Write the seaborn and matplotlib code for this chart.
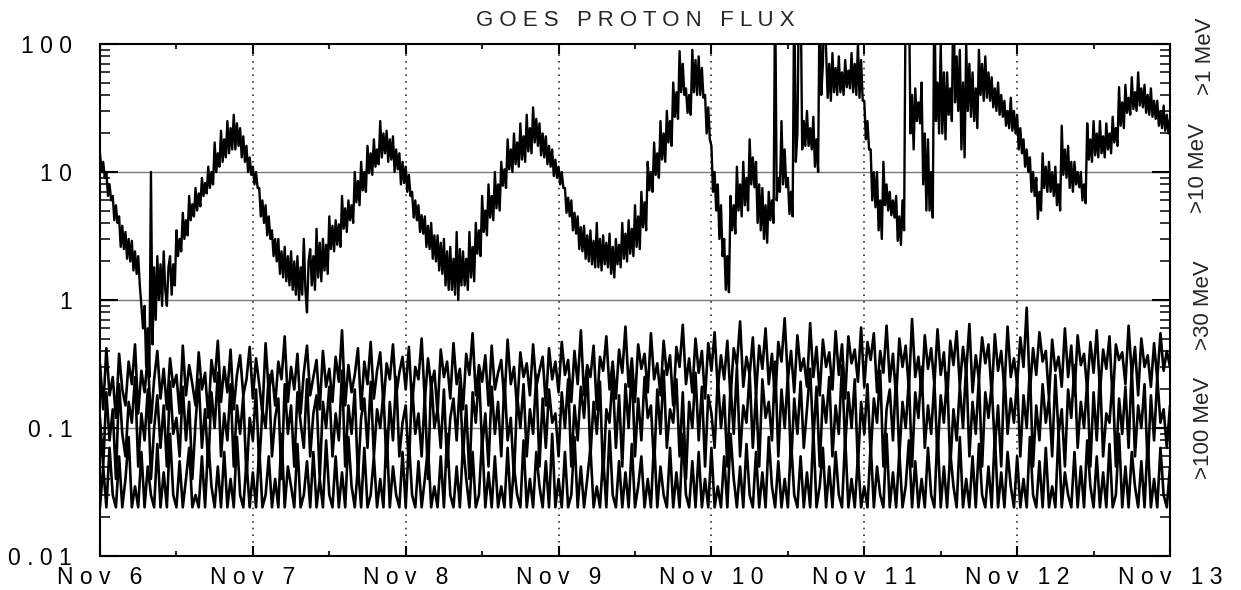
import numpy as np
import pandas as pd
import matplotlib
matplotlib.use('Agg')
import matplotlib.pyplot as plt
import matplotlib.ticker as mticker
import matplotlib.transforms as mtrans
import seaborn as sns

# >1 MeV channel, four readings per hour, one list per day (Nov 6 .. Nov 12)
p1_day0 = [14, 10, 12, 9, 10, 6.5, 8, 6, 6.5, 4.2, 5.5, 4, 4.5, 2.6, 3.8, 2.5, 3.4, 2.1, 3.0, 2.0, 2.9, 1.7, 2.4, 1.6,
           2.2, 1.3, 0.9, 0.6, 0.9, 0.3, 0.6, 0.25, 10, 0.45, 1.8, 0.7, 2.2, 1.0, 1.9, 0.9, 2.4, 1.2, 0.9, 1.8, 2.2, 1.1, 1.9, 1.3,
           3.5, 2.2, 3.0, 2.4, 4.8, 3.0, 4.2, 3.2, 6.5, 4.2, 5.6, 4.5, 7.5, 5.0, 6.8, 5.4, 9.0, 6.5, 8.2, 6.8, 11, 7.5, 10, 8,
           17, 10, 14, 11, 21, 12, 18, 13, 25, 14, 22, 15, 28, 15, 24, 16, 22, 13, 19, 12, 16, 10, 13, 9.5]
p1_day1 = [11, 8, 10, 7.5, 7.5, 4.5, 6, 4, 5.5, 3.2, 4.5, 3, 3.5, 2.2, 3.0, 2.0, 3.0, 1.6, 2.4, 1.5, 2.6, 1.4, 2.2, 1.3,
           2.4, 1.2, 2.0, 1.1, 2.2, 1.0, 1.8, 1.1, 3.0, 1.2, 0.8, 2.0, 2.5, 1.3, 2.2, 1.2, 3.6, 1.5, 2.8, 1.4, 3.0, 1.7, 2.7, 1.6,
           4.5, 2.5, 3.8, 2.4, 4.2, 2.7, 3.9, 2.6, 6.5, 3.6, 5.2, 3.4, 6.0, 4.2, 5.5, 4.0, 10, 5.8, 8.5, 5.5, 12, 7.2, 10, 7,
           16, 9.8, 14, 9.5, 18, 11, 15, 11.5, 25, 13, 20, 14, 21, 12, 18, 12.5, 19, 10, 15, 10.5, 14, 8, 12, 8.2]
p1_day2 = [11, 7, 9.5, 6.5, 7, 4.4, 6, 4.2, 5.5, 3.4, 4.6, 3.3, 4.5, 2.6, 3.8, 2.5, 4.0, 2.1, 3.2, 2.0, 3.2, 1.7, 2.8, 1.6,
           3.0, 1.3, 2.4, 1.2, 2.6, 1.2, 2.1, 1.1, 3.4, 1.0, 2.5, 1.3, 2.4, 1.3, 2.1, 1.2, 3.4, 1.5, 2.6, 1.4, 4.0, 2.3, 3.5, 2.2,
           6.5, 3.4, 5.0, 3.2, 8, 4.4, 6.5, 4.2, 10, 5.2, 8, 5, 12, 7.8, 10.5, 7.5, 18, 10.5, 15, 10, 20, 11.5, 17, 11,
           24, 12.5, 19, 12, 28, 14.5, 22, 14, 32, 17, 26, 16, 24, 13.5, 20, 13, 19, 11.5, 16, 11, 15, 9.3, 12.5, 9]
p1_day3 = [11, 8, 10, 7.5, 7.5, 4.8, 6.3, 4.5, 6, 3.5, 4.8, 3.3, 4.5, 2.5, 3.7, 2.4, 3.8, 2.1, 3.2, 2.0, 3.5, 1.9, 2.9, 1.8,
           4.0, 1.8, 3.0, 1.7, 3.2, 1.9, 2.8, 1.8, 3.3, 1.6, 2.6, 1.5, 3.0, 1.9, 2.7, 1.8, 4.0, 2.1, 3.3, 2.0, 4.2, 2.3, 3.6, 2.2,
           5.5, 2.6, 4.5, 2.5, 7, 3.7, 5.8, 3.5, 12, 7.2, 10, 7, 17, 9.5, 14, 9, 25, 12.5, 20, 12, 30, 17, 25, 16,
           50, 27, 42, 26, 88, 42, 70, 40, 45, 29, 40, 28, 90, 42, 75, 40, 80, 40, 65, 38, 40, 20, 32, 18]
p1_day4 = [16, 7, 10, 5, 8, 3, 5.5, 2.2, 3, 1.2, 2.2, 1.15, 6.5, 3.5, 5.5, 3.3, 11, 5, 8, 4.5, 12, 5.5, 9, 5,
           18, 8, 13, 7.6, 12, 4, 8, 3.5, 7.5, 3, 5.5, 2.8, 7, 4.2, 6, 4, 300, 6, 9, 7, 25, 8, 15, 7.6,
           9, 4.7, 7, 4.5, 300, 12, 20, 300, 300, 15, 25, 16, 30, 16, 22, 15, 27, 11, 18, 10, 300, 40, 70, 300,
           90, 38, 70, 36, 85, 42, 65, 40, 80, 42, 60, 40, 75, 46, 62, 45, 85, 42, 70, 40, 100, 38, 75, 36]
p1_day5 = [36, 18, 25, 15, 15, 6, 10, 5.3, 10, 3.5, 6, 3, 12, 5.5, 8, 5, 7, 4.6, 6, 4.4, 6.5, 2.9, 4.5, 2.7,
           6, 3.5, 300, 300, 300, 20, 40, 15, 45, 25, 35, 24, 50, 8, 20, 5, 18, 5, 10, 4.4, 300, 25, 50, 20,
           100, 20, 60, 18, 60, 28, 45, 25, 300, 35, 80, 30, 90, 15, 50, 13, 100, 30, 70, 27, 60, 25, 45, 22,
           90, 40, 70, 36, 80, 38, 60, 36, 55, 32, 45, 30, 50, 28, 40, 27, 36, 23, 30, 22, 38, 21, 30, 20]
p1_day6 = [28, 15, 22, 14, 18, 11, 15, 10, 13, 7, 10, 6.5, 9, 4.3, 7, 5, 14, 7.5, 11, 7, 12, 7, 10, 6.5,
           11, 5.5, 8, 5, 23, 9.5, 15, 9, 16, 7.5, 12, 7, 12, 8, 10, 7.6, 10, 6, 8, 5.7, 24, 12.5, 18, 12,
           25, 13.5, 20, 13, 25, 14, 19, 13, 24, 15, 20, 14, 27, 17, 22, 16, 46, 23, 35, 22, 48, 29, 38, 28,
           55, 31, 42, 30, 60, 33, 45, 32, 48, 29, 40, 28, 45, 27, 36, 26, 36, 23, 30, 22, 33, 21, 28, 20]
p1_end = [26]

# >10 MeV channel, two readings per hour
p10_days = [
    [0.32, 0.14, 0.42, 0.18, 0.25, 0.12, 0.38, 0.20, 0.15, 0.33, 0.22, 0.45, 0.13, 0.28, 0.19, 0.36, 0.11, 0.24, 0.40, 0.17, 0.29, 0.14, 0.35, 0.21,
     0.26, 0.13, 0.44, 0.18, 0.31, 0.22, 0.15, 0.39, 0.20, 0.27, 0.12, 0.34, 0.23, 0.48, 0.16, 0.30, 0.19, 0.41, 0.14, 0.26, 0.37, 0.18, 0.24, 0.43],
    [0.17, 0.35, 0.22, 0.13, 0.46, 0.19, 0.28, 0.15, 0.33, 0.24, 0.52, 0.16, 0.30, 0.20, 0.38, 0.13, 0.27, 0.44, 0.18, 0.25, 0.34, 0.14, 0.40, 0.21,
     0.29, 0.16, 0.36, 0.23, 0.58, 0.15, 0.31, 0.19, 0.26, 0.42, 0.14, 0.33, 0.22, 0.47, 0.17, 0.28, 0.39, 0.15, 0.32, 0.24, 0.45, 0.18, 0.27, 0.36],
    [0.20, 0.43, 0.15, 0.30, 0.24, 0.50, 0.16, 0.35, 0.21, 0.28, 0.13, 0.41, 0.25, 0.33, 0.17, 0.46, 0.22, 0.29, 0.14, 0.38, 0.26, 0.55, 0.18, 0.31,
     0.23, 0.37, 0.15, 0.44, 0.20, 0.27, 0.34, 0.16, 0.49, 0.22, 0.30, 0.14, 0.39, 0.25, 0.32, 0.18, 0.45, 0.21, 0.28, 0.36, 0.15, 0.42, 0.24, 0.33],
    [0.19, 0.47, 0.26, 0.34, 0.16, 0.40, 0.22, 0.58, 0.18, 0.31, 0.25, 0.44, 0.14, 0.36, 0.28, 0.52, 0.20, 0.33, 0.17, 0.41, 0.27, 0.62, 0.21, 0.35,
     0.16, 0.45, 0.29, 0.38, 0.19, 0.55, 0.24, 0.32, 0.18, 0.48, 0.26, 0.37, 0.15, 0.43, 0.30, 0.64, 0.22, 0.35, 0.19, 0.50, 0.27, 0.40, 0.17, 0.46],
    [0.28, 0.56, 0.20, 0.37, 0.24, 0.48, 0.17, 0.42, 0.31, 0.68, 0.21, 0.36, 0.26, 0.51, 0.18, 0.44, 0.29, 0.60, 0.22, 0.38, 0.16, 0.47, 0.33, 0.72,
     0.24, 0.40, 0.19, 0.53, 0.28, 0.35, 0.21, 0.66, 0.25, 0.43, 0.18, 0.49, 0.30, 0.39, 0.20, 0.57, 0.26, 0.45, 0.17, 0.52, 0.32, 0.41, 0.23, 0.61],
    [0.21, 0.47, 0.34, 0.55, 0.19, 0.40, 0.27, 0.63, 0.23, 0.38, 0.17, 0.50, 0.30, 0.44, 0.20, 0.71, 0.25, 0.36, 0.18, 0.53, 0.29, 0.42, 0.22, 0.59,
     0.26, 0.39, 0.16, 0.48, 0.31, 0.57, 0.21, 0.43, 0.27, 0.65, 0.19, 0.37, 0.24, 0.51, 0.32, 0.45, 0.18, 0.54, 0.28, 0.40, 0.20, 0.62, 0.25, 0.35],
    [0.22, 0.51, 0.30, 0.87, 0.19, 0.42, 0.26, 0.56, 0.33, 0.40, 0.17, 0.49, 0.28, 0.36, 0.21, 0.60, 0.25, 0.44, 0.18, 0.53, 0.31, 0.38, 0.20, 0.47,
     0.27, 0.58, 0.19, 0.41, 0.29, 0.52, 0.16, 0.45, 0.34, 0.39, 0.22, 0.63, 0.26, 0.43, 0.18, 0.50, 0.30, 0.37, 0.21, 0.46, 0.24, 0.55, 0.28, 0.40],
    [0.30],
]

# >30 MeV channel, two readings per hour
p30_days = [
    [0.12, 0.05, 0.19, 0.08, 0.14, 0.04, 0.22, 0.09, 0.06, 0.16, 0.11, 0.25, 0.05, 0.13, 0.08, 0.20, 0.04, 0.10, 0.18, 0.07, 0.15, 0.05, 0.23, 0.09,
     0.12, 0.06, 0.21, 0.08, 0.16, 0.04, 0.11, 0.24, 0.07, 0.14, 0.05, 0.19, 0.10, 0.27, 0.06, 0.13, 0.08, 0.22, 0.05, 0.15, 0.09, 0.18, 0.04, 0.12],
    [0.08, 0.20, 0.05, 0.14, 0.10, 0.26, 0.06, 0.12, 0.17, 0.04, 0.22, 0.09, 0.15, 0.05, 0.19, 0.11, 0.07, 0.24, 0.06, 0.13, 0.18, 0.04, 0.16, 0.10,
     0.21, 0.06, 0.13, 0.08, 0.28, 0.05, 0.15, 0.09, 0.20, 0.04, 0.12, 0.17, 0.07, 0.23, 0.06, 0.14, 0.10, 0.19, 0.05, 0.16, 0.08, 0.25, 0.06, 0.11],
    [0.15, 0.05, 0.22, 0.09, 0.13, 0.06, 0.18, 0.04, 0.25, 0.10, 0.14, 0.07, 0.20, 0.05, 0.12, 0.17, 0.08, 0.23, 0.06, 0.15, 0.04, 0.19, 0.11, 0.27,
     0.07, 0.13, 0.05, 0.21, 0.09, 0.16, 0.06, 0.24, 0.08, 0.12, 0.04, 0.18, 0.10, 0.22, 0.06, 0.14, 0.09, 0.26, 0.05, 0.17, 0.07, 0.20, 0.11, 0.13],
    [0.06, 0.19, 0.10, 0.24, 0.05, 0.15, 0.08, 0.21, 0.12, 0.29, 0.06, 0.16, 0.09, 0.23, 0.04, 0.14, 0.11, 0.26, 0.07, 0.18, 0.05, 0.22, 0.10, 0.31,
     0.06, 0.17, 0.08, 0.25, 0.12, 0.15, 0.05, 0.20, 0.09, 0.28, 0.07, 0.14, 0.11, 0.24, 0.06, 0.19, 0.04, 0.16, 0.10, 0.27, 0.08, 0.21, 0.05, 0.18],
    [0.13, 0.07, 0.25, 0.10, 0.18, 0.05, 0.22, 0.09, 0.30, 0.06, 0.15, 0.11, 0.27, 0.07, 0.19, 0.05, 0.24, 0.12, 0.16, 0.08, 0.33, 0.06, 0.20, 0.10,
     0.26, 0.05, 0.17, 0.09, 0.23, 0.07, 0.14, 0.29, 0.08, 0.21, 0.05, 0.18, 0.11, 0.25, 0.06, 0.15, 0.09, 0.31, 0.07, 0.19, 0.10, 0.24, 0.05, 0.16],
    [0.09, 0.22, 0.06, 0.17, 0.11, 0.28, 0.05, 0.14, 0.20, 0.08, 0.26, 0.06, 0.16, 0.10, 0.24, 0.05, 0.19, 0.12, 0.30, 0.07, 0.15, 0.09, 0.23, 0.06,
     0.18, 0.11, 0.27, 0.05, 0.14, 0.08, 0.21, 0.10, 0.32, 0.06, 0.16, 0.09, 0.25, 0.05, 0.19, 0.12, 0.22, 0.07, 0.15, 0.05, 0.28, 0.09, 0.17, 0.11],
    [0.24, 0.06, 0.18, 0.10, 0.29, 0.05, 0.15, 0.08, 0.22, 0.11, 0.17, 0.06, 0.26, 0.09, 0.14, 0.05, 0.20, 0.12, 0.31, 0.07, 0.16, 0.10, 0.23, 0.05,
     0.19, 0.08, 0.27, 0.06, 0.13, 0.11, 0.24, 0.05, 0.17, 0.09, 0.21, 0.07, 0.30, 0.06, 0.15, 0.10, 0.22, 0.05, 0.18, 0.08, 0.25, 0.11, 0.14, 0.07],
    [0.15],
]

# >100 MeV channel, two readings per hour (0.024 is the instrument floor)
p100_days = [
    [0.024, 0.05, 0.024, 0.07, 0.03, 0.024, 0.06, 0.024, 0.04, 0.085, 0.024, 0.035, 0.024, 0.065, 0.024, 0.05, 0.03, 0.024, 0.075, 0.024, 0.045, 0.024, 0.09, 0.03,
     0.024, 0.055, 0.024, 0.04, 0.07, 0.024, 0.03, 0.024, 0.06, 0.024, 0.08, 0.035, 0.024, 0.05, 0.024, 0.065, 0.024, 0.04, 0.024, 0.085, 0.03, 0.024, 0.055, 0.024],
    [0.045, 0.024, 0.07, 0.024, 0.03, 0.06, 0.024, 0.04, 0.024, 0.09, 0.024, 0.05, 0.035, 0.024, 0.075, 0.024, 0.03, 0.055, 0.024, 0.065, 0.024, 0.04, 0.024, 0.08,
     0.03, 0.024, 0.06, 0.024, 0.045, 0.024, 0.085, 0.035, 0.024, 0.05, 0.024, 0.07, 0.024, 0.03, 0.06, 0.024, 0.04, 0.024, 0.095, 0.024, 0.05, 0.03, 0.024, 0.065],
    [0.024, 0.08, 0.03, 0.024, 0.055, 0.024, 0.04, 0.07, 0.024, 0.035, 0.024, 0.06, 0.024, 0.09, 0.03, 0.024, 0.05, 0.024, 0.075, 0.04, 0.024, 0.065, 0.024, 0.03,
     0.085, 0.024, 0.045, 0.024, 0.06, 0.024, 0.035, 0.024, 0.07, 0.024, 0.05, 0.03, 0.024, 0.08, 0.024, 0.04, 0.024, 0.065, 0.035, 0.024, 0.055, 0.024, 0.09, 0.024],
    [0.04, 0.024, 0.065, 0.024, 0.03, 0.085, 0.024, 0.05, 0.024, 0.04, 0.07, 0.024, 0.035, 0.024, 0.06, 0.024, 0.095, 0.03, 0.024, 0.055, 0.024, 0.045, 0.024, 0.075,
     0.024, 0.035, 0.06, 0.024, 0.04, 0.024, 0.08, 0.024, 0.05, 0.03, 0.024, 0.07, 0.024, 0.045, 0.024, 0.09, 0.03, 0.024, 0.055, 0.024, 0.065, 0.024, 0.04, 0.024],
    [0.07, 0.024, 0.035, 0.024, 0.06, 0.024, 0.09, 0.04, 0.024, 0.05, 0.024, 0.075, 0.03, 0.024, 0.065, 0.024, 0.045, 0.024, 0.085, 0.035, 0.024, 0.055, 0.024, 0.04,
     0.024, 0.08, 0.03, 0.024, 0.06, 0.024, 0.045, 0.024, 0.095, 0.024, 0.035, 0.07, 0.024, 0.05, 0.024, 0.065, 0.03, 0.024, 0.085, 0.024, 0.04, 0.024, 0.06, 0.024],
    [0.035, 0.024, 0.075, 0.024, 0.05, 0.03, 0.024, 0.09, 0.024, 0.045, 0.024, 0.065, 0.024, 0.035, 0.08, 0.024, 0.055, 0.024, 0.04, 0.024, 0.07, 0.03, 0.024, 0.095,
     0.024, 0.05, 0.024, 0.065, 0.035, 0.024, 0.085, 0.024, 0.04, 0.024, 0.06, 0.024, 0.075, 0.03, 0.024, 0.05, 0.024, 0.09, 0.024, 0.045, 0.024, 0.065, 0.035, 0.024],
    [0.06, 0.024, 0.04, 0.024, 0.085, 0.03, 0.024, 0.055, 0.024, 0.07, 0.024, 0.035, 0.024, 0.095, 0.024, 0.045, 0.03, 0.024, 0.065, 0.024, 0.05, 0.024, 0.08, 0.035,
     0.024, 0.06, 0.024, 0.045, 0.024, 0.075, 0.024, 0.03, 0.09, 0.024, 0.05, 0.024, 0.065, 0.035, 0.024, 0.055, 0.024, 0.08, 0.024, 0.04, 0.024, 0.07, 0.03, 0.024],
    [0.05],
]

day_labels = ['Nov 6', 'Nov 7', 'Nov 8', 'Nov 9', 'Nov 10', 'Nov 11', 'Nov 12', 'Nov 13']
y_ticks = [0.01, 0.1, 1, 10, 100]
y_labels = ['0.01', '0.1', '1', '10', '100']
channel_labels = ['>1 MeV', '>10 MeV', '>30 MeV', '>100 MeV']
channel_label_y = [80, 10.8, 0.91, 0.1]
channel_label_x = [1.033, 1.027, 1.031, 1.031]
grid_levels = [0.1, 1, 10]


def spaced(s):
    # letter-spaced text like the original plot
    return '   '.join(' '.join(w) for w in s.split())


def to_frame(day_lists, per_hour, name):
    rows = []
    for d, vals in enumerate(day_lists):
        for i, v in enumerate(vals):
            rows.append((d * 24 + i / per_hour, v, name))
    return pd.DataFrame(rows, columns=['hour', 'flux', 'channel'])


p1_days = [p1_day0, p1_day1, p1_day2, p1_day3, p1_day4, p1_day5, p1_day6, p1_end]
low = pd.concat([
    to_frame(p100_days, 2, '>100 MeV'),
    to_frame(p30_days, 2, '>30 MeV'),
    to_frame(p10_days, 2, '>10 MeV'),
], ignore_index=True)
high = to_frame(p1_days, 4, '>1 MeV')

sns.set_style('white')
plt.rcParams['font.family'] = ['Liberation Sans', 'DejaVu Sans']

fig = plt.figure(figsize=(12.41, 5.90), dpi=100)
ax = fig.add_axes([100 / 1241, 34 / 590, 1070 / 1241, 512 / 590])

sns.lineplot(data=low, x='hour', y='flux', units='channel', estimator=None,
             color='black', lw=1.9, sort=False, ax=ax, legend=False)
sns.lineplot(data=high, x='hour', y='flux', units='channel', estimator=None,
             color='black', lw=1.7, sort=False, ax=ax, legend=False)

ax.set_yscale('log')
ax.set_ylim(0.01, 100)
ax.set_xlim(0, 168)

for lvl in grid_levels:
    ax.axhline(lvl, color='#7a7a7a', lw=1.0, zorder=0)
for d in range(24, 168, 24):
    ax.axvline(d, color='#333333', lw=1.2, ls=(0, (1, 3)), zorder=0)

ax.yaxis.set_major_locator(mticker.FixedLocator(y_ticks))
ax.yaxis.set_major_formatter(mticker.FixedFormatter([spaced(s) for s in y_labels]))
ax.yaxis.set_minor_locator(mticker.LogLocator(base=10, subs=np.arange(2, 10)))
ax.yaxis.set_minor_formatter(mticker.NullFormatter())

ax.xaxis.set_major_locator(mticker.FixedLocator(range(0, 169, 24)))
ax.xaxis.set_major_formatter(mticker.FixedFormatter([spaced(s) for s in day_labels]))
ax.xaxis.set_minor_locator(mticker.FixedLocator(range(12, 168, 24)))

ax.tick_params(axis='y', which='major', direction='in', length=13, width=1.5,
               left=True, right=True, pad=20, labelsize=16.5, colors='black')
ax.tick_params(axis='y', which='minor', direction='in', length=7, width=1.3,
               left=True, right=True)
ax.tick_params(axis='x', which='major', direction='in', length=7, width=1.5,
               bottom=True, top=True, pad=7.5, labelsize=16.5, colors='black')
ax.tick_params(axis='x', which='minor', direction='in', length=3.5, width=1.5,
               bottom=True, top=True)

for sp in ax.spines.values():
    sp.set_color('black')
    sp.set_linewidth(1.5)

ax.set_xlabel('')
ax.set_ylabel('')
ax.set_title(spaced('GOES PROTON FLUX'), fontsize=16, pad=13)

trans = mtrans.blended_transform_factory(ax.transAxes, ax.transData)
for lab, xv, yv in zip(channel_labels, channel_label_x, channel_label_y):
    ax.text(xv, yv, lab, transform=trans, rotation=90, ha='center', va='center',
            fontsize=16, clip_on=False)

fig.savefig('out.png', dpi=100)
